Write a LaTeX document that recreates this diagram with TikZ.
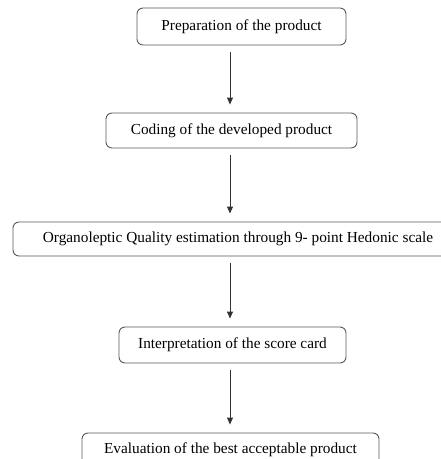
\documentclass[tikz,border=0pt]{standalone}
\usepackage{fontspec}
\setmainfont{Liberation Serif}
\usetikzlibrary{arrows.meta}

\begin{document}
\begin{tikzpicture}[x=1pt, y=-1pt,
  stage/.style={draw=black!65, line width=0.9pt, rounded corners=6pt,
    inner sep=0pt, font=\fontsize{15.3}{18}\selectfont},
  flow/.style={draw=black!80, line width=0.9pt,
    -{Triangle[length=7pt,width=6pt]}, shorten <=7pt, shorten >=8pt}]
  \useasboundingbox (0,0) rectangle (441,459);
  \clip (0,0) rectangle (441,459);
  \node[stage, minimum width=209pt, minimum height=37pt] (prep) at (241.5,26.5) {Preparation of the product};
  \node[stage, minimum width=251pt, minimum height=35pt] (code) at (231.5,130.5) {Coding of the developed product};
  \node[stage, minimum width=450pt, minimum height=34pt] (sense) at (238,239) {Organoleptic Quality estimation through 9- point Hedonic scale};
  \node[stage, minimum width=227pt, minimum height=36pt] (score) at (232.5,345) {Interpretation of the score card};
  \node[stage, minimum width=297pt, minimum height=34pt] (best) at (230.5,450) {Evaluation of the best acceptable product};
  % arrows down the middle
  \coordinate (spine) at (230,0);
  \draw[flow] (spine |- prep.south) -- (spine |- code.north);
  \draw[flow] (spine |- code.south) -- (spine |- sense.north);
  \draw[flow] (spine |- sense.south) -- (spine |- score.north);
  \draw[flow] (spine |- score.south) -- (spine |- best.north);
\end{tikzpicture}
\end{document}
